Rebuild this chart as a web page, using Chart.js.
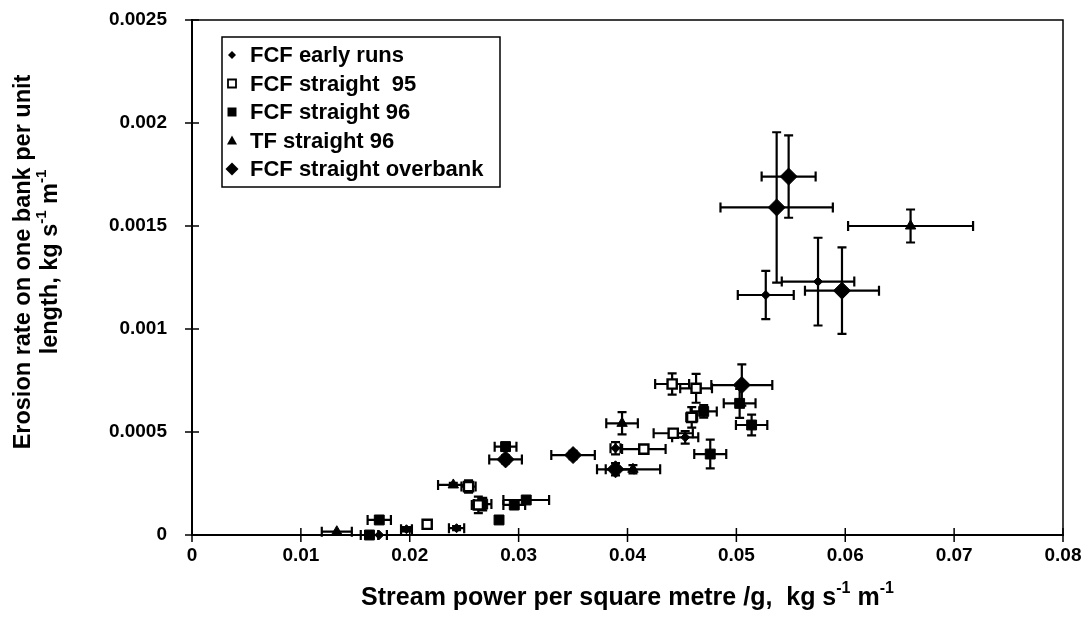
<!DOCTYPE html>
<html>
<head>
<meta charset="utf-8">
<script src="https://cdn.jsdelivr.net/npm/chart.js@4.4.0/dist/chart.umd.min.js"></script>
<style>
	html, body { margin: 0; padding: 0; background: #fff; }
	#wrap { width: 1088px; height: 630px; position: relative; }
</style>
</head>
<body>
<div id="wrap"><canvas id="chart"></canvas></div>
<script>
/* ---------- Data ---------- */

var X_TICKS = [0, 0.01, 0.02, 0.03, 0.04, 0.05, 0.06, 0.07, 0.08];
var X_TICK_LABELS = ['0', '0.01', '0.02', '0.03', '0.04', '0.05', '0.06', '0.07', '0.08'];
var Y_TICKS = [0, 0.0005, 0.001, 0.0015, 0.002, 0.0025];
var Y_TICK_LABELS = ['0', '0.0005', '0.001', '0.0015', '0.002', '0.0025'];

var SERIES_NAMES = ['FCF early runs', 'FCF straight  95', 'FCF straight 96', 'TF straight 96', 'FCF straight overbank'];

// FCF early runs
var earlyX    = [0.0172, 0.0197, 0.0243, 0.0389, 0.0453, 0.0527, 0.0575];
var earlyY    = [0.0000, 0.000028, 0.000033, 0.000421, 0.000474, 0.001165, 0.00123];
var earlyXErr = [0.0007, 0.0005, 0.0007, 0.00046, 0.0012, 0.00257, 0.00333];
var earlyYErr = [0, 0.00001, 0.00001, 0.00003, 0.00003, 0.000117, 0.000213];

// FCF straight 95
var s95X    = [0.0216, 0.0254, 0.0263, 0.0415, 0.0442, 0.0459, 0.0441, 0.0463];
var s95Y    = [0.000052, 0.000235, 0.000146, 0.000417, 0.000494, 0.000571, 0.000733, 0.000712];
var s95XErr = [0, 0.00065, 0.0006, 0.002, 0.0018, 0.0005, 0.00156, 0.00146];
var s95YErr = [0, 0.00003, 0.00004, 0.00002, 0.00002, 0.00005, 0.000052, 0.00007];

// FCF straight 96
var s96X    = [0.0163, 0.0172, 0.0267, 0.0282, 0.0296, 0.0307, 0.0288, 0.047, 0.0503, 0.0514, 0.0476];
var s96Y    = [0.0, 0.000073, 0.00015, 0.000073, 0.000146, 0.00017, 0.000429, 0.0006, 0.000639, 0.000534, 0.000393];
var s96XErr = [0.0008, 0.00107, 0.0008, 0, 0.001, 0.0021, 0.001, 0.0012, 0.00146, 0.00144, 0.00147];
var s96YErr = [0, 0.00001, 0.00003, 0, 0.00002, 0.00001, 0.00002, 0.00003, 0.00007, 0.00005, 0.00007];

// TF straight 96
var tfX    = [0.0133, 0.024, 0.0395, 0.0405, 0.066];
var tfY    = [0.000016, 0.000243, 0.000542, 0.000319, 0.0015];
var tfXErr = [0.00138, 0.0014, 0.00145, 0.0025, 0.00574];
var tfYErr = [0, 0.00001, 0.000054, 0.00002, 0.00008];

// FCF straight overbank
var obX    = [0.0288, 0.035, 0.0389, 0.0505, 0.0548, 0.0537, 0.0597];
var obY    = [0.000367, 0.000388, 0.000319, 0.000728, 0.00174, 0.00159, 0.001186];
var obXErr = [0.0015, 0.002, 0.0017, 0.0028, 0.00248, 0.00516, 0.0034];
var obYErr = [0.00002, 0.00002, 0.00003, 0.0001, 0.0002, 0.000365, 0.00021];

/* ---------- Helpers ---------- */

var FONT = '"Liberation Sans", Arial, sans-serif';

function toPoints(xs, ys) {
	return xs.map(function (x, i) { return { x: x, y: ys[i] }; });
}

function makeSet(idx, xs, ys, xErr, yErr, style) {
	return {
		label: SERIES_NAMES[idx],
		data: toPoints(xs, ys),
		xErr: xErr,
		yErr: yErr,
		pointStyle: style.shape,
		pointRadius: style.radius,
		pointHoverRadius: style.radius,
		backgroundColor: style.fill,
		borderColor: '#000',
		borderWidth: style.border,
		showLine: false,
		clip: false
	};
}

// Draws text parts with superscripts, centred on (x, y).
function drawRich(ctx, parts, x, y, size) {
	var total = 0;
	parts.forEach(function (p) {
		ctx.font = 'bold ' + (p.sup ? Math.round(size * 0.62) : size) + 'px ' + FONT;
		p.w = ctx.measureText(p.t).width;
		total += p.w;
	});
	var cx = x - total / 2;
	ctx.textAlign = 'left';
	ctx.textBaseline = 'middle';
	parts.forEach(function (p) {
		ctx.font = 'bold ' + (p.sup ? Math.round(size * 0.62) : size) + 'px ' + FONT;
		ctx.fillText(p.t, cx, p.sup ? y - size * 0.38 : y);
		cx += p.w;
	});
}

function marker(ctx, kind, x, y) {
	ctx.beginPath();
	ctx.fillStyle = '#000';
	ctx.strokeStyle = '#000';
	if (kind === 'smallDiamond' || kind === 'bigDiamond') {
		var r = kind === 'smallDiamond' ? 4 : 6.5;
		ctx.moveTo(x, y - r); ctx.lineTo(x + r, y); ctx.lineTo(x, y + r); ctx.lineTo(x - r, y);
		ctx.closePath(); ctx.fill();
	} else if (kind === 'openSquare') {
		ctx.lineWidth = 1.8;
		ctx.fillStyle = '#fff';
		ctx.rect(x - 4, y - 4, 8, 8); ctx.fill(); ctx.stroke();
	} else if (kind === 'filledSquare') {
		ctx.rect(x - 4.5, y - 4.5, 9, 9); ctx.fill();
	} else if (kind === 'triangle') {
		ctx.moveTo(x, y - 5); ctx.lineTo(x + 5, y + 4); ctx.lineTo(x - 5, y + 4);
		ctx.closePath(); ctx.fill();
	}
}

/* ---------- Plugins ---------- */

var errorBars = {
	id: 'errorBars',
	beforeDatasetsDraw: function (chart) {
		var ctx = chart.ctx;
		var xs = chart.scales.x, ys = chart.scales.y;
		ctx.save();
		ctx.strokeStyle = '#000';
		ctx.lineWidth = 2.2;
		chart.data.datasets.forEach(function (ds) {
			ds.data.forEach(function (pt, i) {
				var px = xs.getPixelForValue(pt.x);
				var py = ys.getPixelForValue(pt.y);
				var ex = ds.xErr[i] || 0;
				var ey = ds.yErr[i] || 0;
				ctx.beginPath();
				if (ex > 0) {
					var x1 = xs.getPixelForValue(pt.x - ex);
					var x2 = xs.getPixelForValue(pt.x + ex);
					ctx.moveTo(x1, py); ctx.lineTo(x2, py);
					ctx.moveTo(x1, py - 5); ctx.lineTo(x1, py + 5);
					ctx.moveTo(x2, py - 5); ctx.lineTo(x2, py + 5);
				}
				if (ey > 0) {
					var y1 = ys.getPixelForValue(pt.y - ey);
					var y2 = ys.getPixelForValue(pt.y + ey);
					ctx.moveTo(px, y1); ctx.lineTo(px, y2);
					ctx.moveTo(px - 4.5, y1); ctx.lineTo(px + 4.5, y1);
					ctx.moveTo(px - 4.5, y2); ctx.lineTo(px + 4.5, y2);
				}
				ctx.stroke();
			});
		});
		ctx.restore();
	}
};

var frame = {
	id: 'frame',
	afterDraw: function (chart) {
		var ctx = chart.ctx;
		var a = chart.chartArea;
		var xs = chart.scales.x, ys = chart.scales.y;
		ctx.save();
		// top and right border
		ctx.strokeStyle = '#000';
		ctx.lineWidth = 1.5;
		ctx.beginPath();
		ctx.moveTo(a.left, a.top); ctx.lineTo(a.right, a.top); ctx.lineTo(a.right, a.bottom);
		ctx.stroke();
		// crossing tick marks
		ctx.lineWidth = 1.5;
		ctx.beginPath();
		X_TICKS.forEach(function (v) {
			var px = xs.getPixelForValue(v);
			ctx.moveTo(px, a.bottom - 7); ctx.lineTo(px, a.bottom + 7);
		});
		Y_TICKS.forEach(function (v) {
			var py = ys.getPixelForValue(v);
			ctx.moveTo(a.left - 7, py); ctx.lineTo(a.left + 7, py);
		});
		ctx.stroke();

		// axis titles
		ctx.fillStyle = '#000';
		drawRich(ctx, [
			{ t: 'Stream power per square metre /g,  kg s' }, { t: '-1', sup: true },
			{ t: ' m' }, { t: '-1', sup: true }
		], (a.left + a.right) / 2, 598, 25);

		ctx.save();
		ctx.translate(24, 262);
		ctx.rotate(-Math.PI / 2);
		drawRich(ctx, [{ t: 'Erosion rate on one bank per unit' }], 0, 0, 23.5);
		drawRich(ctx, [
			{ t: 'length, kg s' }, { t: '-1', sup: true }, { t: ' m' }, { t: '-1', sup: true }
		], 0, 27, 23.5);
		ctx.restore();

		// legend box
		var lx = 222, ly = 37, lw = 278, lh = 150;
		ctx.fillStyle = '#fff';
		ctx.fillRect(lx, ly, lw, lh);
		ctx.strokeStyle = '#000';
		ctx.lineWidth = 1.5;
		ctx.strokeRect(lx, ly, lw, lh);
		var kinds = ['smallDiamond', 'openSquare', 'filledSquare', 'triangle', 'bigDiamond'];
		SERIES_NAMES.forEach(function (name, i) {
			var ry = ly + 18 + i * 28.5;
			marker(ctx, kinds[i], lx + 10, ry);
			ctx.fillStyle = '#000';
			ctx.font = 'bold 22px ' + FONT;
			ctx.textAlign = 'left';
			ctx.textBaseline = 'middle';
			ctx.fillText(name, lx + 28, ry + 1);
		});
		ctx.restore();
	}
};

/* ---------- Chart ---------- */

var datasets = [
	makeSet(0, earlyX, earlyY, earlyXErr, earlyYErr, { shape: 'rectRot', radius: 4.5, fill: '#000', border: 1 }),
	makeSet(1, s95X, s95Y, s95XErr, s95YErr, { shape: 'rect', radius: 6.5, fill: '#fff', border: 2.4 }),
	makeSet(2, s96X, s96Y, s96XErr, s96YErr, { shape: 'rect', radius: 7, fill: '#000', border: 1 }),
	makeSet(3, tfX, tfY, tfXErr, tfYErr, { shape: 'triangle', radius: 6, fill: '#000', border: 1 }),
	makeSet(4, obX, obY, obXErr, obYErr, { shape: 'rectRot', radius: 8.5, fill: '#000', border: 1 })
];

new Chart(document.getElementById('chart'), {
	type: 'scatter',
	data: { datasets: datasets },
	options: {
		responsive: true,
		maintainAspectRatio: false,
		animation: false,
		layout: { padding: { left: 60, right: 25, top: 20, bottom: 0 } },
		scales: {
			x: {
				type: 'linear',
				min: 0,
				max: 0.08,
				afterBuildTicks: function (scale) {
					scale.ticks = X_TICKS.map(function (v) { return { value: v }; });
				},
				afterFit: function (scale) {
					scale.height = 95;
					scale.paddingLeft = 0;
					scale.paddingRight = 0;
				},
				grid: { display: false, drawTicks: false },
				border: { display: true, color: '#000', width: 2 },
				ticks: {
					padding: 9,
					color: '#000',
					font: { family: FONT, size: 19, weight: 'bold' },
					callback: function (v) { return X_TICK_LABELS[X_TICKS.indexOf(v)]; }
				}
			},
			y: {
				type: 'linear',
				min: 0,
				max: 0.0025,
				afterBuildTicks: function (scale) {
					scale.ticks = Y_TICKS.map(function (v) { return { value: v }; });
				},
				afterFit: function (scale) {
					scale.width = 132;
					scale.paddingTop = 0;
					scale.paddingBottom = 0;
				},
				grid: { display: false, drawTicks: false },
				border: { display: true, color: '#000', width: 2 },
				ticks: {
					padding: 25,
					color: '#000',
					font: { family: FONT, size: 19, weight: 'bold' },
					callback: function (v) { return Y_TICK_LABELS[Y_TICKS.indexOf(v)]; }
				}
			}
		},
		plugins: {
			legend: { display: false },
			tooltip: { enabled: false }
		}
	},
	plugins: [errorBars, frame]
});
</script>
</body>
</html>
